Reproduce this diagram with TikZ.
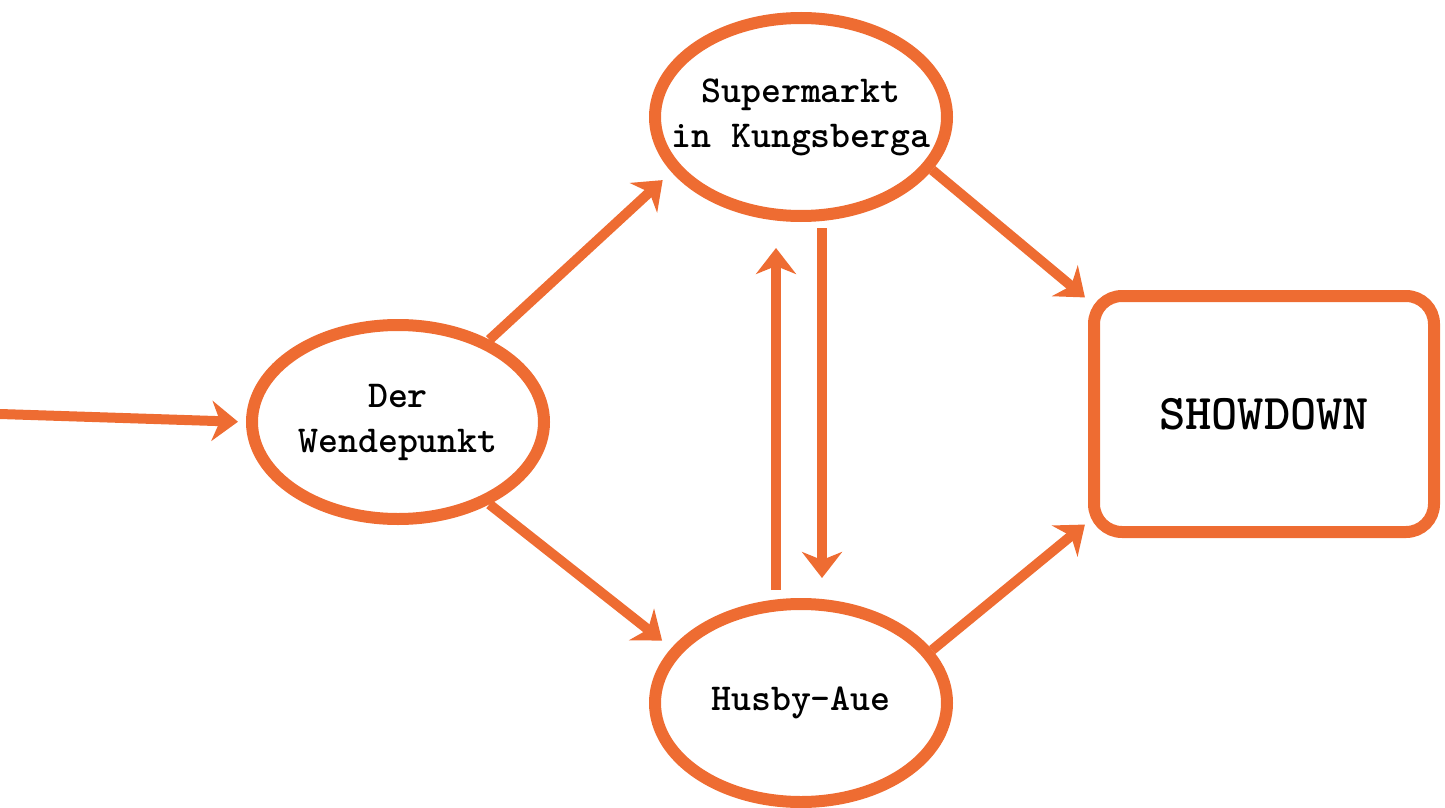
\documentclass[tikz,border=0pt]{standalone}
\usepackage{fontspec}
\usepackage{tikz}
\usetikzlibrary{shapes.geometric, arrows.meta, positioning}
\definecolor{chalk}{RGB}{238,108,50}

\begin{document}
\begin{tikzpicture}[
                x=0.5pt, y=-0.5pt,
                font=\ttfamily\bfseries\fontsize{19}{22.5}\selectfont,
                spot/.style={ellipse, draw=chalk, line width=6pt, align=center, inner xsep=-15pt, inner ysep=0pt, minimum width=146pt, minimum height=99pt},
                goal/.style={rectangle, draw=chalk, line width=6pt, rounded corners=14pt, minimum width=170pt, minimum height=118pt, font=\ttfamily\bfseries\fontsize{25}{30}\selectfont},
                arrow/.style={draw=chalk, line width=5pt, -{Stealth[length=13pt, width=20pt, inset=4pt]}}
            ]
            \useasboundingbox (0,0) rectangle (1445,808);
            \node (wende) [spot, minimum height=97pt] at (398,422) {Der\\Wendepunkt};
            \node (super) [spot] at (801,117) {Supermarkt\\in Kungsberga};
            \node (husby) [spot, below=188pt of super] {Husby-Aue};
            \node (show) [goal] at (1264,414) {SHOWDOWN};
            \coordinate (start) at (0,414);

            \draw [arrow, shorten >=4pt] (start) -- (wende.west);
            \draw [arrow, shorten >=6pt] (wende.42) -- (super.203);
            \draw [arrow, shorten >=6pt] (wende.-42) -- (husby.157);
            \draw [arrow, shorten <=4pt, shorten >=13pt] ([xshift=-12.5pt]husby.north) -- ([xshift=-12.5pt]super.south);
            \draw [arrow, shorten <=3pt, shorten >=10pt] ([xshift=10.5pt]super.south) -- ([xshift=10.5pt]husby.north);
            \draw [arrow, shorten >=2pt] (super.-22) -- ([yshift=-5pt]show.north west);
            \draw [arrow, shorten >=2pt] (husby.22) -- ([yshift=8pt]show.south west);
            \end{tikzpicture}
\end{document}
